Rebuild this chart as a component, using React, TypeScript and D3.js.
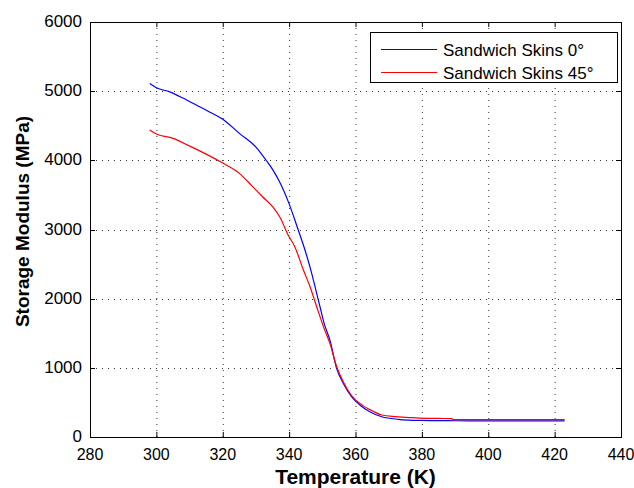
import React from "react";
import * as d3 from "d3";

const blueT = [298, 300, 304, 308, 312, 316, 320, 325, 330, 333, 335, 337, 340, 342.7, 344.8, 346.8, 348.3, 349.3, 350.5, 352.3, 354.3, 356.3, 358.8, 361.3, 364.3, 367.9, 372.9, 379.4, 390, 400, 410, 423];
const blueV = [5110, 5050, 4990, 4900, 4800, 4700, 4595, 4390, 4190, 4005, 3870, 3700, 3370, 3000, 2700, 2366, 2077, 1884, 1650, 1400, 993, 776, 583, 463, 366, 293, 256, 240, 235, 233, 233, 233];

const redT = [298, 300, 305, 310, 315, 320, 325, 329, 332, 335, 337.2, 339.7, 341.7, 344.3, 346.3, 348.3, 350.3, 352.3, 354.3, 356.3, 358.8, 362.3, 365, 367.9, 372, 375.4, 379.4, 385, 389, 389.5, 400, 423];
const redV = [4440, 4380, 4318, 4207, 4090, 3960, 3812, 3620, 3474, 3330, 3180, 2920, 2751, 2414, 2173, 1884, 1600, 1350, 1020, 800, 600, 450, 380, 318, 295, 285, 272, 268, 265, 250, 250, 250];

const xTicks = [280, 300, 320, 340, 360, 380, 400, 420, 440];
const yTicks = [0, 1000, 2000, 3000, 4000, 5000, 6000];
const seriesNames = ["Sandwich Skins 0°", "Sandwich Skins 45°"];
const seriesColors = ["#0000ff", "#ff0000"];

export default function App() {
  const W = 634, H = 488;
  const L = 90, R = 621, T = 22, B = 437;
  const x = d3.scaleLinear().domain([280, 440]).range([L, R]);
  const y = d3.scaleLinear().domain([0, 6000]).range([B, T]);
  const line = d3.line<[number, number]>().x(d => x(d[0])).y(d => y(d[1])).curve(d3.curveMonotoneX);
  const series = [
    blueT.map((t, i) => [t, blueV[i]] as [number, number]),
    redT.map((t, i) => [t, redV[i]] as [number, number]),
  ];
  const font = "'Liberation Sans', Arial, Helvetica, sans-serif";
  const tickLen = 5;
  const gridColor = "#333";
  return (
    <svg width={W} height={H} style={{ position: "absolute", left: 0, top: 0, background: "#fff" }} fontFamily={font}>
      <rect x={0} y={0} width={W} height={H} fill="#fff" />
      <rect x={L} y={T} width={R - L} height={B - T} fill="#fff" />
      {xTicks.filter(t => t > 280 && t < 440).map(t => (
        <line key={"gx" + t} x1={x(t) + 0.5} x2={x(t) + 0.5} y1={T} y2={B} stroke={gridColor} strokeWidth={1} strokeDasharray="1 5" />
      ))}
      {yTicks.filter(t => t > 0 && t < 6000).map(t => (
        <line key={"gy" + t} x1={L} x2={R} y1={Math.round(y(t)) + 0.5} y2={Math.round(y(t)) + 0.5} stroke={gridColor} strokeWidth={1} strokeDasharray="1 5" />
      ))}
      {series.map((s, i) => (
        <path key={"s" + i} d={line(s) || ""} fill="none" stroke={seriesColors[i]} strokeWidth={1.2} />
      ))}
      {xTicks.map(t => (
        <g key={"tx" + t}>
          <line x1={x(t) + 0.5} x2={x(t) + 0.5} y1={B} y2={B - tickLen} stroke="#000" />
          <line x1={x(t) + 0.5} x2={x(t) + 0.5} y1={T} y2={T + tickLen} stroke="#000" />
          <text x={x(t)} y={460} fontSize={16} textAnchor="middle" fill="#000">{t}</text>
        </g>
      ))}
      {yTicks.map(t => (
        <g key={"ty" + t}>
          <line x1={L} x2={L + tickLen} y1={Math.round(y(t)) + 0.5} y2={Math.round(y(t)) + 0.5} stroke="#000" />
          <line x1={R} x2={R - tickLen} y1={Math.round(y(t)) + 0.5} y2={Math.round(y(t)) + 0.5} stroke="#000" />
          <text x={82} y={y(t) + 5} fontSize={17} textAnchor="end" fill="#000">{t}</text>
        </g>
      ))}
      <rect x={L + 0.5} y={T + 0.5} width={R - L} height={B - T} fill="none" stroke="#000" strokeWidth={1} />
      <rect x={370.5} y={32.5} width={247} height={50} fill="#fff" stroke="#000" strokeWidth={1} />
      {seriesNames.map((n, i) => (
        <g key={"lg" + i}>
          <line x1={381} x2={437} y1={49.5 + i * 23} y2={49.5 + i * 23} stroke={seriesColors[i]} strokeWidth={1.2} />
          <text x={443} y={49.5 + i * 23 + 6} fontSize={17} fill="#000">{n}</text>
        </g>
      ))}
      <text x={(L + R) / 2} y={483.5} fontSize={21} fontWeight="bold" textAnchor="middle" fill="#000">Temperature (K)</text>
      <text transform={`translate(29, ${(T + B) / 2 - 8}) rotate(-90)`} fontSize={19} fontWeight="bold" textAnchor="middle" fill="#000">Storage Modulus (MPa)</text>
    </svg>
  );
}
